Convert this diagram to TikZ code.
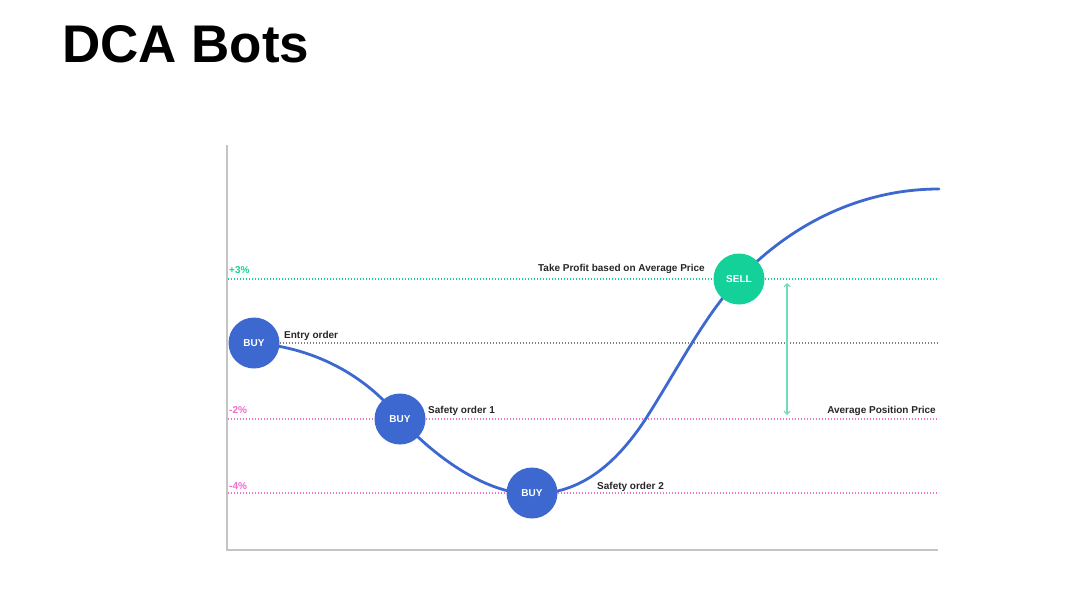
\documentclass[tikz,border=0pt]{standalone}
\usepackage{fontspec}
\setmainfont{Liberation Sans}
\usetikzlibrary{arrows.meta}
\definecolor{cblue}{HTML}{3D68CF}
\definecolor{cgreen}{HTML}{14D19A}
\definecolor{cpink}{HTML}{F06BCB}
\definecolor{cgray}{HTML}{C4C4C4}
\definecolor{carrow}{HTML}{6FDDB8}
\tikzset{
  dot/.style={circle, minimum size=51pt, inner sep=0pt, text=white, font=\fontsize{10}{12}\selectfont\bfseries},
  buydot/.style={dot, fill=cblue},
  selldot/.style={dot, fill=cgreen},
  lbl/.style={font=\fontsize{10}{12}\selectfont\bfseries, inner sep=0pt, text=black!85},
  level/.style={line width=1.1pt, dash pattern=on 1.4pt off 1.6pt},
  axisline/.style={cgray, line width=1.6pt},
  pricecurve/.style={cblue, line width=2.8pt, line cap=round}
}
\begin{document}
\begin{tikzpicture}[x=1pt,y=-1pt]
\useasboundingbox (0,0) rectangle (1084,589);
\node[anchor=base west, inner sep=0pt, font=\fontsize{53}{58}\selectfont\bfseries] (title) at (62,62) {DCA Bots};
% axes
\coordinate (ytop) at (227,145);
\coordinate (orig) at (227,550);
\coordinate (xend) at (938,550);
\draw[axisline] (ytop) -- (orig) -- (xend);
% levels
\coordinate (l3a) at (228,279); \coordinate (l3b) at (939,279);
\coordinate (l0a) at (280,343); \coordinate (l0b) at (939,343);
\coordinate (l2a) at (228,419); \coordinate (l2b) at (939,419);
\coordinate (l4a) at (228,493); \coordinate (l4b) at (939,493);
\draw[level, cgreen] (l3a) -- (l3b);
\draw[level, black!50] (l0a) -- (l0b);
\draw[level, cpink] (l2a) -- (l2b);
\draw[level, cpink] (l4a) -- (l4b);
% curve waypoints
\coordinate (c1) at (254,343);
\coordinate (c2) at (400,419);
\coordinate (c3) at (532,494);
\coordinate (cm) at (645,420);
\coordinate (c4) at (739,279);
\coordinate (cend) at (939,189);
% curve
\draw[pricecurve] (c1) .. controls (320,348) and (370,380) .. (c2)
  .. controls (438,460) and (488,494) .. (c3)
  .. controls (580,494) and (615,465) .. (cm)
  .. controls (680,365) and (705,315) .. (c4)
  .. controls (790,225) and (860,189) .. (cend);
% circles
\node[buydot] (b1) at (254,343) {BUY};
\node[buydot] (b2) at (400,419) {BUY};
\node[buydot] (b3) at (532,493) {BUY};
\node[selldot] (s) at (739,279) {SELL};
% arrow
\coordinate (at) at (787,283);
\coordinate (ab) at (787,415);
\draw[carrow, line width=1.1pt, {Straight Barb[length=3pt,width=6pt]}-{Straight Barb[length=3pt,width=6pt]}] (at) -- (ab);
% labels
\node[lbl, text=cgreen, anchor=base west] (p3) at (229,273) {+3\%};
\node[lbl, text=cpink, anchor=base west] (m2) at (229,413) {-2\%};
\node[lbl, text=cpink, anchor=base west] (m4) at (229,489) {-4\%};
\node[lbl, anchor=base west] (entry) at (284,338) {Entry order};
\node[lbl, anchor=base west] (so1) at (428,413) {Safety order 1};
\node[lbl, anchor=base west] (so2) at (597,489) {Safety order 2};
\node[lbl, anchor=base east] (tp) at (705,271) {Take Profit based on Average Price};
\node[lbl, anchor=base east] (app) at (936,413) {Average Position Price};
\end{tikzpicture}
\end{document}
